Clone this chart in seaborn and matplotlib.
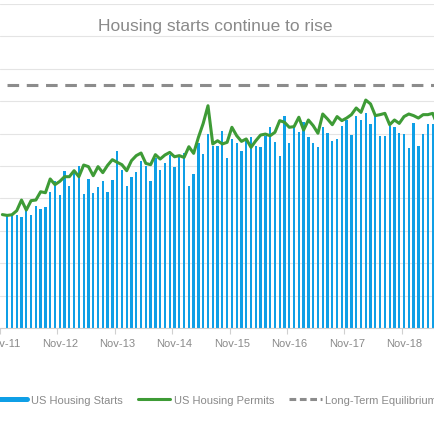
import numpy as np
import pandas as pd
import matplotlib
matplotlib.use("Agg")
import matplotlib.pyplot as plt
from matplotlib.lines import Line2D
import seaborn as sns

# ---- data (thousands of units, SAAR) ----
months = pd.date_range("2011-11-01", "2019-06-01", freq="MS").strftime("%b-%y").tolist()

housing_starts = [np.nan,
    693, 693, 699, 687, 724, 699, 751, 734, 745, 839, 905, 823, 967, 878, 954, 1001, 827, 919, 831, 868, 905, 839, 915,
    1090, 975, 879, 934, 961, 1033, 1002, 905, 1049, 975, 1016, 1070, 996, 1053, 1078, 879, 950, 1140, 1074, 1197, 1125, 1125,
    1218, 1049, 1167, 1140, 1090, 1167, 1181, 1125, 1119, 1187, 1239, 1146, 1064, 1311, 1140, 1239, 1208, 1270, 1181, 1140, 1115, 1239,
    1202, 1152, 1167, 1247, 1284, 1193, 1309, 1284, 1327, 1259, 1311, 1183, 1187, 1249, 1239, 1202, 1197, 1111, 1263, 1125, 1197, 1259, 1259,
    np.nan]

housing_permits = [700,
    695, 699, 724, 790, 728, 786, 790, 841, 835, 920, 885, 905, 934, 934, 971, 934, 1006, 996, 940, 996, 959, 1004, 1039,
    1023, 1008, 971, 1033, 1064, 1080, 1016, 1008, 1070, 1043, 1068, 1084, 1057, 1064, 1053, 1119, 1078, 1177, 1263, 1372, 1136, 1156,
    1136, 1146, 1239, 1187, 1152, 1167, 1115, 1156, 1191, 1197, 1187, 1208, 1280, 1270, 1239, 1243, 1301, 1222, 1284, 1249, 1202, 1321,
    1290, 1255, 1305, 1280, 1296, 1317, 1358, 1331, 1407, 1383, 1311, 1317, 1325, 1255, 1284, 1263, 1305, 1321, 1311, 1296, 1317, 1317, 1325,
    1250]

long_term_equilibrium = 1500

tick_labels = ["Nov-11", "Nov-12", "Nov-13", "Nov-14", "Nov-15", "Nov-16", "Nov-17", "Nov-18"]
series_labels = ["US Housing Starts", "US Housing Permits", "Long-Term Equilibrium"]

df = pd.DataFrame({"month": months, "pos": np.arange(len(months)),
                   "starts": housing_starts, "permits": housing_permits})

# ---- style ----
sns.set_theme(style="white")
plt.rcParams["font.family"] = ["Liberation Sans", "DejaVu Sans"]

BLUE = "#0F9FE6"
GREEN = "#3E9B36"
GRAY = "#8C8C8C"
TXT = "#8A8A8A"

fig = plt.figure(figsize=(4.35, 4.35), dpi=100)
ax = fig.add_axes([0, 0.2437, 1, 0.7448])

sns.barplot(data=df, x="month", y="starts", order=months, color=BLUE,
            saturation=1, width=0.48, errorbar=None, ax=ax, zorder=2,
            linewidth=0, edgecolor="none")
sns.lineplot(data=df, x="pos", y="permits", color=GREEN, lw=2.2, ax=ax,
             legend=False, zorder=3)
ax.axhline(long_term_equilibrium, color=GRAY, lw=2.2,
           linestyle=(4.0, (3.8, 2.5)), zorder=3)

ax.set_ylim(0, 2000)
ax.set_xlim(0.451, 90.48)
ax.set_yticks(np.arange(0, 2001, 200))
ax.set_yticklabels([])
ax.yaxis.grid(True, color="#E4E4E4", lw=0.8)
ax.xaxis.grid(False)
ax.set_axisbelow(True)
ax.tick_params(axis="y", length=0)

nov_pos = [months.index(t) for t in tick_labels]
ax.set_xticks([p - 0.5 for p in nov_pos])
ax.set_xticklabels([])
ax.set_xticks(nov_pos, minor=True)
ax.set_xticklabels(tick_labels, minor=True, fontsize=8, color=TXT)
ax.tick_params(axis="x", which="major", length=4, width=0.8, color="#D0D0D0", direction="out", bottom=True)
ax.tick_params(axis="x", which="minor", length=0, pad=7, bottom=True)
ax.set_xlabel("")
ax.set_ylabel("")

for s in ["top", "left", "right"]:
    ax.spines[s].set_visible(False)
ax.spines["bottom"].set_color("#D0D0D0")
ax.spines["bottom"].set_linewidth(0.8)

fig.text(215.5 / 435, 1 - 26.5 / 435, "Housing starts continue to rise",
         ha="center", va="center", fontsize=12.5, color=TXT)

handles = [Line2D([], [], color=BLUE, lw=3.6),
           Line2D([], [], color=GREEN, lw=2.2),
           Line2D([], [], color=GRAY, lw=2.2, linestyle=(0, (2.2, 1.2)))]
fig.legend(handles, series_labels, loc="center left",
           bbox_to_anchor=(-5 / 435, 1 - 400.7 / 435), ncol=3, frameon=False,
           handlelength=2.9, handletextpad=0.35, columnspacing=1.35,
           borderpad=0, borderaxespad=0, fontsize=8, labelcolor=TXT)

fig.savefig("out.png", dpi=100, facecolor="white")
